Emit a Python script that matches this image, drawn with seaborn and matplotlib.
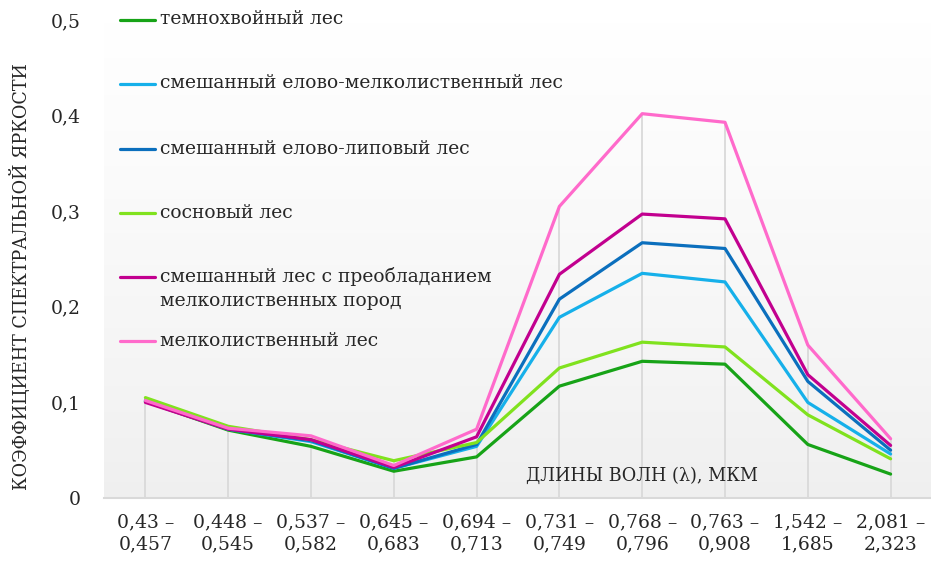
import numpy as np
import pandas as pd
import matplotlib
matplotlib.use("Agg")
import matplotlib.pyplot as plt
import seaborn as sns

# Spectral bands (µm) and reflectance coefficients for each forest type
bands = ["0,43 –\n0,457", "0,448 –\n0,545", "0,537 –\n0,582", "0,645 –\n0,683",
         "0,694 –\n0,713", "0,731 –\n0,749", "0,768 –\n0,796", "0,763 –\n0,908",
         "1,542 –\n1,685", "2,081 –\n2,323"]

dark_conifer = [0.101, 0.071, 0.054, 0.028, 0.043, 0.117, 0.143, 0.140, 0.056, 0.025]
spruce_smallleaf = [0.102, 0.072, 0.059, 0.031, 0.054, 0.189, 0.235, 0.226, 0.100, 0.046]
spruce_linden = [0.101, 0.072, 0.060, 0.031, 0.056, 0.208, 0.267, 0.261, 0.122, 0.050]
pine = [0.105, 0.075, 0.061, 0.039, 0.058, 0.136, 0.163, 0.158, 0.087, 0.041]
mixed_smallleaf = [0.100, 0.072, 0.061, 0.032, 0.064, 0.234, 0.297, 0.292, 0.129, 0.055]
small_leaved = [0.102, 0.073, 0.065, 0.034, 0.072, 0.305, 0.402, 0.393, 0.160, 0.062]

series_names = [
    "темнохвойный лес",
    "смешанный елово-мелколиственный лес",
    "смешанный елово-липовый лес",
    "сосновый лес",
    "смешанный лес с преобладанием\nмелколиственных пород",
    "мелколиственный лес",
]
series_values = [dark_conifer, spruce_smallleaf, spruce_linden, pine,
                 mixed_smallleaf, small_leaved]
colors = ["#17a317", "#16b0ea", "#0b6fbd", "#80e21e", "#c2008f", "#ff6acb"]

df = pd.DataFrame(
    [(name, i, v) for name, vals in zip(series_names, series_values)
     for i, v in enumerate(vals)],
    columns=["forest", "band", "value"],
)

sns.set_theme(style="white")
plt.rcParams["font.family"] = ["DejaVu Serif"]
FS = 13.5

W, H = 931, 563
fig = plt.figure(figsize=(W / 100, H / 100), dpi=100)
ax = fig.add_axes([104 / W, 1 - 498 / H, (932 - 104) / W, (498 - 20) / H])

# Soft vertical gradient behind the plot area
grad = np.linspace(0, 1, 256).reshape(-1, 1) ** 0.8
cmap = matplotlib.colors.LinearSegmentedColormap.from_list("bg", ["#efefef", "#ffffff"])
ax.imshow(grad, extent=[-0.5, 9.5, 0, 0.5], origin="lower", cmap=cmap,
          aspect="auto", zorder=0)

# Drop lines from the highest value in each band down to the axis
tops = np.max(np.array(series_values), axis=0)
ax.vlines(np.arange(len(bands)), 0, tops, color="#d9d9d9", lw=1.3, zorder=1)

sns.lineplot(data=df, x="band", y="value", hue="forest", palette=colors,
             hue_order=series_names, sort=False, lw=2.3, legend=False, ax=ax,
             zorder=3)

ax.set_xlim(-0.5, 9.5)
ax.set_ylim(0, 0.5)
ax.set_xticks(np.arange(len(bands)))
ax.set_xticklabels(bands, fontsize=FS, linespacing=1.3)
ax.set_yticks([0, 0.1, 0.2, 0.3, 0.4, 0.5])
ax.set_yticklabels(["0", "0,1", "0,2", "0,3", "0,4", "0,5"], fontsize=FS)
ax.tick_params(axis="y", length=0, pad=17)
ax.tick_params(axis="x", length=0, pad=11)
ax.set_xlabel("")
ax.set_ylabel("КОЭФФИЦИЕНТ СПЕКТРАЛЬНОЙ ЯРКОСТИ", fontsize=12.7)
ax.yaxis.set_label_coords(31 / W, 1 - 277 / H, transform=fig.transFigure)
for side in ["left", "right", "top"]:
    ax.spines[side].set_visible(False)
ax.spines["bottom"].set_color("#d9d9d9")
ax.spines["bottom"].set_linewidth(1.5)

ax.text(6.0, 0.023, "ДЛИНЫ ВОЛН (λ), МКМ", fontsize=12.7, ha="center", va="center")

# Legend entries stacked at the left of the plot area
legend_y = [20, 84, 149, 213, 277, 341]
for name, col, y in zip(series_names, colors, legend_y):
    fy = 1 - y / H
    fig.add_artist(matplotlib.lines.Line2D([120 / W, 155 / W], [fy, fy],
                                           color=col, lw=2.3,
                                           transform=fig.transFigure))
    fig.text(160 / W, fy + 9.5 / H, name, fontsize=FS, ha="left", va="top",
             linespacing=1.4)

fig.savefig("out.png", dpi=100)
